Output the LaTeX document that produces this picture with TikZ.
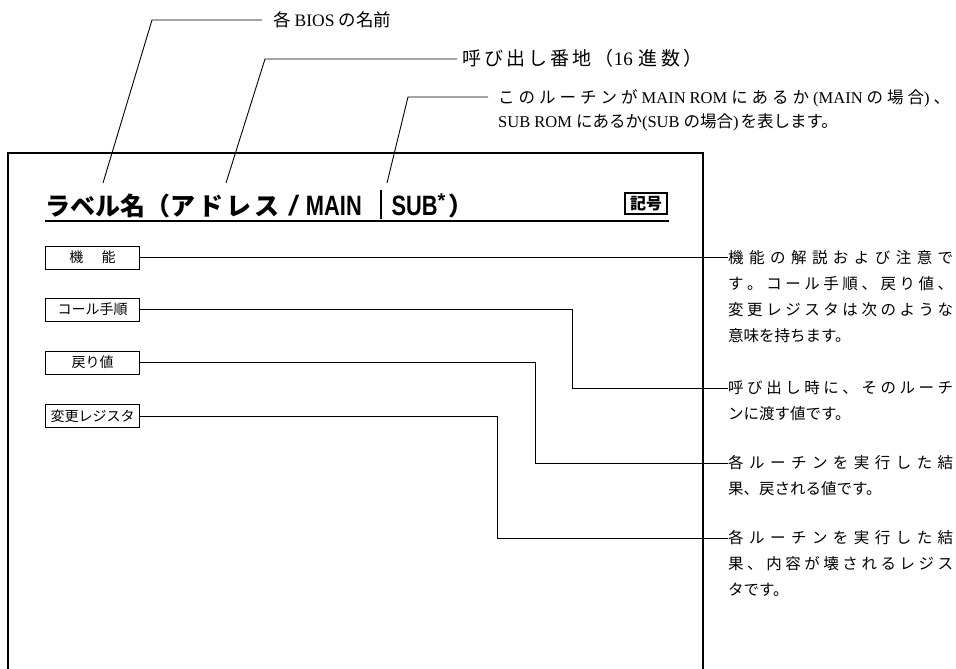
\documentclass[tikz,border=0pt]{standalone}
\usepackage{fontspec}
\usepackage{graphicx}
\setmainfont{Liberation Serif}
\newfontfamily\jp{Noto Sans CJK JP}
\newfontfamily\hel{Liberation Sans}
\makeatletter
\def\spreadtext#1{\sprd@#1\sprd@end}
\def\sprd@#1#2\sprd@end{#1\ifx\relax#2\relax\else\hfil\sprd@#2\sprd@end\fi}
\makeatother
\newcommand{\fullline}[1]{\makebox[225pt][s]{\spreadtext{#1}}}
\newcommand{\sj}[1]{{\jp\spreadtext{#1}}}
\begin{document}
\begin{tikzpicture}[x=1pt,y=-1pt,
  frame/.style={line width=1.6pt},
  lead/.style={line width=0.9pt},
  tag/.style={draw, line width=0.9pt, minimum width=94pt, minimum height=23pt, inner sep=0pt,
    font=\jp\fontsize{14}{14}\selectfont},
  note/.style={anchor=west, inner sep=0pt, font=\jp\fontsize{15.5}{15.5}\selectfont,
    text height=13.6pt, text depth=1.9pt},
  topnote/.style={anchor=west, inner sep=0pt, font=\fontsize{17.5}{17.5}\selectfont,
    text height=15.4pt, text depth=2.1pt},
  topnotes/.style={anchor=west, inner sep=0pt, font=\fontsize{16.5}{16.5}\selectfont,
    text height=14.5pt, text depth=2pt}]
\useasboundingbox (0,0) rectangle (956,669);

% frame (open at bottom)
\coordinate (fbl) at (8,672);
\coordinate (ftl) at (8,153);
\coordinate (ftr) at (703,153);
\coordinate (fbr) at (703,672);
\draw[frame] (fbl) -- (ftl) -- (ftr) -- (fbr);

% title
\node[anchor=base west, inner sep=0pt, font=\jp\bfseries\fontsize{25}{25}\selectfont] (title) at (45,215)
  {ラベル名（ア\hspace{3pt}ド\hspace{3pt}レ\hspace{3pt}ス\hspace{10pt}{\hel\bfseries\itshape\fontsize{28}{28}\selectfont /}\hspace{9pt}\scalebox{0.78}[1]{\hel\bfseries\fontsize{28}{28}\selectfont MAIN}\hspace{18pt}\rule[-4pt]{1.8pt}{29pt}\hspace{10pt}\scalebox{0.78}[1]{\hel\bfseries\fontsize{28}{28}\selectfont SUB}\raisebox{8pt}{\hel\fontsize{20}{20}\selectfont *}\hspace{3pt}）};
\coordinate (ul1) at (45,221);
\coordinate (ul2) at (669,221);
\draw[line width=1.6pt] (ul1) -- (ul2);
\node[draw, line width=1.1pt, minimum width=42pt, minimum height=21pt, inner sep=0pt,
  font=\jp\bfseries\fontsize{16}{16}\selectfont] (kigo) at (646,203.5) {記号};

% top annotations
\node[topnote] (bios) at (273,20) {{\jp 各}\hspace{4pt}BIOS\hspace{4pt}{\jp の名前}};
\node[topnote, font=\fontsize{19}{19}\selectfont] (addr) at (462,59)
  {\makebox[240pt][s]{\sj{呼び出し番地}\hfil{\jp （}16\hspace{6pt}\sj{進数}\hfil{\jp ）}}};
\node[topnotes] (rom1) at (498,97)
  {\makebox[452pt][s]{\sj{このルーチンが}\hfil MAIN\hfil ROM\hfil\sj{にあるか}\hfil(MAIN\hfil\sj{の場合})\hfil{\jp 、}}};
\node[topnotes] (rom2) at (498,121) {SUB ROM\hspace{4pt}{\jp にあるか}(SUB\hspace{4pt}{\jp の場合})\hspace{2pt}{\jp を表します。}};

\coordinate (a1) at (152,20);  \coordinate (a1e) at (103,183);
\coordinate (a2) at (265,59);  \coordinate (a2e) at (226,183);
\coordinate (a3) at (408,97);  \coordinate (a3e) at (387,183);
\draw[lead] ([xshift=-11pt]bios.west) -- (a1) -- (a1e);
\draw[lead] ([xshift=-5pt]addr.west) -- (a2) -- (a2e);
\draw[lead] ([xshift=-10pt]rom1.west) -- (a3) -- (a3e);

% tag boxes
\node[tag] (kino) at (92.5,257.5) {機\hspace{1.3em}能};
\node[tag] (call) at (92.5,309.5) {コール手順};
\node[tag] (ret)  at (92.5,362.5) {戻り値};
\node[tag] (reg)  at (92.5,416)   {変更レジスタ};

% right notes
\node[note] (n1a) at (728,257.5) {\fullline{機能の解説および注意で}};
\node[note] (n1b) at (728,283.5) {\fullline{す。コール手順、戻り値、}};
\node[note] (n1c) at (728,309.5) {\fullline{変更レジスタは次のような}};
\node[note] (n1d) at (728,335.5) {意味を持ちます。};

\node[note] (n2a) at (728,388) {\fullline{呼び出し時に、そのルーチ}};
\node[note] (n2b) at (728,414) {ンに渡す値です。};

\node[note] (n3a) at (728,463) {\fullline{各ルーチンを実行した結}};
\node[note] (n3b) at (728,489) {果、戻される値です。};

\node[note] (n4a) at (728,538) {\fullline{各ルーチンを実行した結}};
\node[note] (n4b) at (728,564) {\fullline{果、内容が壊されるレジス}};
\node[note] (n4c) at (728,590) {タです。};

% connectors
\coordinate (c2) at (572,388);
\coordinate (c3) at (535,463);
\coordinate (c4) at (497,538);
\draw[lead] (kino.east) -- (n1a.west);
\draw[lead] (call.east) -| (c2) -- (n2a.west);
\draw[lead] (ret.east) -| (c3) -- (n3a.west);
\draw[lead] (reg.east) -| (c4) -- (n4a.west);
\end{tikzpicture}
\end{document}
